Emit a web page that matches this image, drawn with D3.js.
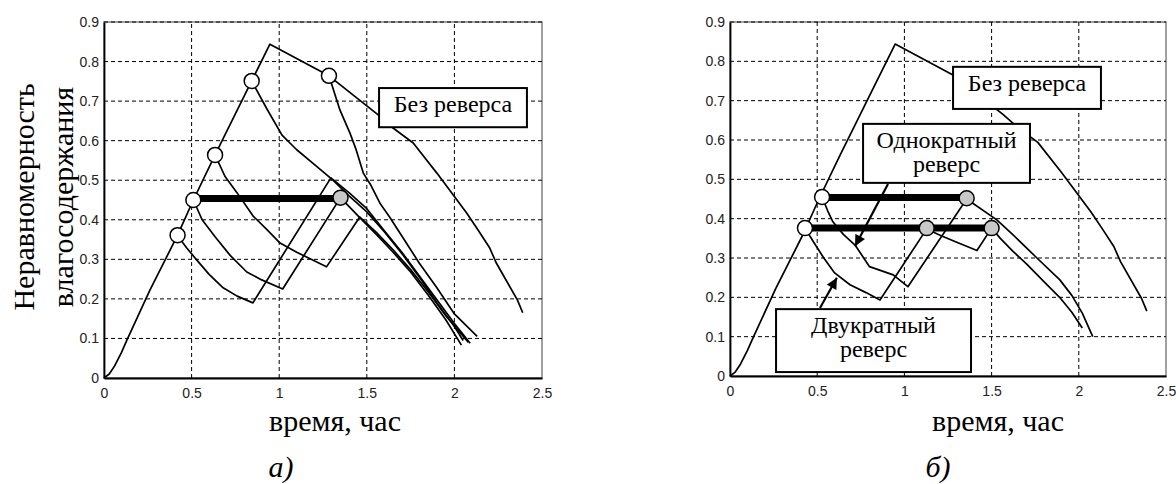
<!DOCTYPE html>
<meta charset="utf-8">
<body style="margin:0;background:#fff">
<div id="chart"></div>
<script src="https://d3js.org/d3.v7.min.js"></script>
<script>
// axis ticks
var xTicks = [0, 0.5, 1, 1.5, 2, 2.5];
var yTicks = [0, 0.1, 0.2, 0.3, 0.4, 0.5, 0.6, 0.7, 0.8, 0.9];

// curve without reversal (same on both panels)
var mainCurve = [[0,0],[0.03,0.01],[0.06,0.03],[0.1,0.065],[0.13,0.095],[0.262,0.222],[0.42,0.361],
  [0.51,0.45],[0.634,0.564],[0.843,0.751],[0.947,0.844],[1.284,0.764],[1.565,0.665],[1.65,0.632],
  [1.765,0.594],[1.9,0.518],[2.07,0.417],[2.135,0.374],[2.2,0.33],[2.24,0.29],[2.36,0.197],[2.39,0.165]];

// panel a) reversal branches
var branchA1 = [[0.42,0.36],[0.47,0.33],[0.53,0.298],[0.6,0.262],[0.68,0.228],[0.76,0.207],[0.85,0.19],
  [1.295,0.506],[1.4,0.468],[1.5,0.428],[1.6,0.372],[1.7,0.318],[1.8,0.258],[1.9,0.198],[2.0,0.138],[2.09,0.088]];
var branchA2 = [[0.51,0.45],[0.56,0.4],[0.634,0.357],[0.72,0.31],[0.815,0.268],[0.9,0.248],[1.02,0.225],
  [1.35,0.456],[1.45,0.41],[1.55,0.365],[1.65,0.318],[1.75,0.268],[1.85,0.21],[1.95,0.148],[2.04,0.083]];
var branchA3 = [[0.634,0.564],[0.69,0.51],[0.76,0.468],[0.85,0.41],[0.93,0.375],[1.005,0.341],[1.1,0.318],
  [1.27,0.281],[1.46,0.407],[1.55,0.37],[1.65,0.324],[1.75,0.274],[1.85,0.218],[1.95,0.158],[2.08,0.09]];
var branchA4 = [[0.843,0.751],[0.93,0.68],[1.016,0.614],[1.1,0.577],[1.2,0.54],[1.307,0.5],[1.4,0.46],
  [1.5,0.42],[1.6,0.37],[1.7,0.315],[1.8,0.255],[1.9,0.19],[2.0,0.13],[2.05,0.095]];
var branchA5 = [[1.284,0.764],[1.347,0.677],[1.404,0.619],[1.44,0.576],[1.48,0.518],[1.52,0.49],[1.575,0.442],
  [1.63,0.407],[1.69,0.366],[1.8,0.29],[1.9,0.228],[2.0,0.162],[2.13,0.105]];
var openA = [[0.42,0.361],[0.51,0.45],[0.634,0.564],[0.843,0.751],[1.284,0.764]];
var grayA = [[1.35,0.456]];
var barsA = [[0.51,1.35,0.454]];

// panel б) single and double reversal
var branchB1 = [[0.528,0.455],[0.56,0.42],[0.59,0.392],[0.65,0.36],[0.717,0.333],[0.8,0.278],[0.936,0.257],
  [1.02,0.227],[1.357,0.45],[1.39,0.44],[1.53,0.397],[1.62,0.36],[1.76,0.3],[1.89,0.245],[1.96,0.205],[2.02,0.16],[2.08,0.1]];
var branchB2 = [[0.43,0.376],[0.48,0.34],[0.535,0.302],[0.6,0.262],[0.688,0.232],[0.78,0.212],[0.86,0.193],
  [1.128,0.374],[1.204,0.358],[1.3,0.34],[1.416,0.319],[1.5,0.376],[1.55,0.35],[1.62,0.318],[1.7,0.285],
  [1.8,0.24],[1.89,0.2],[1.96,0.162],[2.02,0.122]];
var openB = [[0.528,0.455],[0.43,0.376]];
var grayB = [[1.357,0.452],[1.128,0.376],[1.5,0.376]];
var barsB = [[0.528,1.357,0.454],[0.43,1.5,0.376]];

// text boxes: [x0, x1, yTop, yBottom, lines]
var notesA = [[1.57, 2.414, 0.733, 0.634, ["Без реверса"]]];
var notesB = [[1.279, 2.127, 0.786, 0.679, ["Без реверса"]],
  [0.763, 1.72, 0.641, 0.491, ["Однократный", "реверс"]],
  [0.264, 1.382, 0.17, 0.01, ["Двукратный", "реверс"]]];
// arrows: [fromX, fromY, toX, toY]
var arrowsB = [[0.906, 0.488, 0.717, 0.33], [0.516, 0.173, 0.613, 0.25]];

var serif = "'Liberation Serif', 'Times New Roman', Tinos, 'DejaVu Serif', serif";
var sans = "'Liberation Sans Narrow', 'Liberation Sans', Arial, sans-serif";

var svg = d3.select("#chart").append("svg")
  .attr("width", 1176).attr("height", 484);

svg.append("defs").append("marker")
  .attr("id", "head").attr("viewBox", "0 0 10 10")
  .attr("refX", 10).attr("refY", 5)
  .attr("markerWidth", 5.5).attr("markerHeight", 5)
  .attr("markerUnits", "strokeWidth")
  .attr("orient", "auto")
  .append("path").attr("d", "M0,0L10,5L0,10z").attr("fill", "#000");

function panel(p) {
  var x = d3.scaleLinear().domain([0, 2.5]).range([p.left, p.right]);
  var y = d3.scaleLinear().domain([0, 0.9]).range([p.bottom, p.top]);
  var g = svg.append("g");

  // box
  g.append("rect").attr("x", x(0)).attr("y", y(0.9))
    .attr("width", x(2.5) - x(0)).attr("height", y(0) - y(0.9))
    .attr("fill", "#fff").attr("stroke", "#808080").attr("stroke-width", 1.5);

  // dashed grid
  g.selectAll(".gx").data(xTicks.slice(1, -1)).enter().append("line")
    .attr("x1", function(d) { return x(d); }).attr("x2", function(d) { return x(d); })
    .attr("y1", y(0)).attr("y2", y(0.9))
    .attr("stroke", "#000").attr("stroke-width", 1).attr("stroke-dasharray", "4,3");
  g.selectAll(".gy").data(yTicks.slice(1)).enter().append("line")
    .attr("x1", x(0)).attr("x2", x(2.5))
    .attr("y1", function(d) { return y(d); }).attr("y2", function(d) { return y(d); })
    .attr("stroke", "#000").attr("stroke-width", 1).attr("stroke-dasharray", "4,3");

  // axes
  var ax = g.append("g").attr("transform", "translate(0," + y(0) + ")")
    .call(d3.axisBottom(x).tickValues(xTicks).tickSize(0).tickPadding(10).tickFormat(d3.format("~g")));
  var ay = g.append("g").attr("transform", "translate(" + x(0) + ",0)")
    .call(d3.axisLeft(y).tickValues(yTicks).tickSize(0).tickPadding(5).tickFormat(d3.format("~g")));
  [ax, ay].forEach(function(a) {
    a.select(".domain").attr("stroke", "#000").attr("stroke-width", 1.8);
    a.selectAll(".tick text").style("font-family", sans).style("font-size", "14px").attr("fill", "#222");
  });

  var line = d3.line().x(function(d) { return x(d[0]); }).y(function(d) { return y(d[1]); });

  g.selectAll(".curve").data(p.curves).enter().append("path")
    .attr("d", line).attr("fill", "none").attr("stroke", "#000")
    .attr("stroke-width", 1.7).attr("stroke-linejoin", "round");

  g.selectAll(".bar").data(p.bars).enter().append("line")
    .attr("x1", function(d) { return x(d[0]); }).attr("x2", function(d) { return x(d[1]); })
    .attr("y1", function(d) { return y(d[2]); }).attr("y2", function(d) { return y(d[2]); })
    .attr("stroke", "#000").attr("stroke-width", 7);

  g.selectAll(".open").data(p.open).enter().append("circle")
    .attr("cx", function(d) { return x(d[0]); }).attr("cy", function(d) { return y(d[1]); })
    .attr("r", 7.5).attr("fill", "#fff").attr("stroke", "#000").attr("stroke-width", 1.5);
  g.selectAll(".gray").data(p.gray).enter().append("circle")
    .attr("cx", function(d) { return x(d[0]); }).attr("cy", function(d) { return y(d[1]); })
    .attr("r", 7.5).attr("fill", "#c8c8c8").attr("stroke", "#000").attr("stroke-width", 1.5);

  g.selectAll(".arrow").data(p.arrows).enter().append("line")
    .attr("x1", function(d) { return x(d[0]); }).attr("y1", function(d) { return y(d[1]); })
    .attr("x2", function(d) { return x(d[2]); }).attr("y2", function(d) { return y(d[3]); })
    .attr("stroke", "#000").attr("stroke-width", 2.2).attr("marker-end", "url(#head)");

  p.notes.forEach(function(n) {
    g.append("rect").attr("x", x(n[0])).attr("y", y(n[2]))
      .attr("width", x(n[1]) - x(n[0])).attr("height", y(n[3]) - y(n[2]))
      .attr("fill", "#fff").attr("stroke", "#000").attr("stroke-width", 2);
    n[4].forEach(function(t, i) {
      g.append("text")
        .attr("x", (x(n[0]) + x(n[1])) / 2)
        .attr("y", y(n[2]) + 24 + i * 24)
        .attr("text-anchor", "middle")
        .style("font-family", serif).style("font-size", "24px")
        .text(t);
    });
  });

  // x label and panel letter
  g.append("text").attr("x", p.xLabelX).attr("y", 431)
    .attr("text-anchor", "middle")
    .style("font-family", serif).style("font-size", "30px")
    .text("время, час");
  g.append("text").attr("x", p.letterX).attr("y", 477)
    .attr("text-anchor", "middle")
    .style("font-family", serif).style("font-size", "30px").style("font-style", "italic")
    .text(p.letter);
  return g;
}

var gA = panel({left: 104, right: 542, top: 22, bottom: 378,
  curves: [mainCurve, branchA1, branchA2, branchA3, branchA4, branchA5],
  bars: barsA, open: openA, gray: grayA, notes: notesA, arrows: [],
  xLabelX: 335, letterX: 281, letter: "а)"});

panel({left: 730, right: 1166, top: 22, bottom: 376,
  curves: [mainCurve, branchB1, branchB2],
  bars: barsB, open: openB, gray: grayB, notes: notesB, arrows: arrowsB,
  xLabelX: 998, letterX: 938, letter: "б)"});

// y label (left panel only)
["Неравномерность", "влагосодержания"].forEach(function(t, i) {
  gA.append("text")
    .attr("transform", "translate(" + (34 + i * 39) + ",197) rotate(-90)")
    .attr("text-anchor", "middle")
    .style("font-family", serif).style("font-size", "30px")
    .text(t);
});
</script>
</body>
